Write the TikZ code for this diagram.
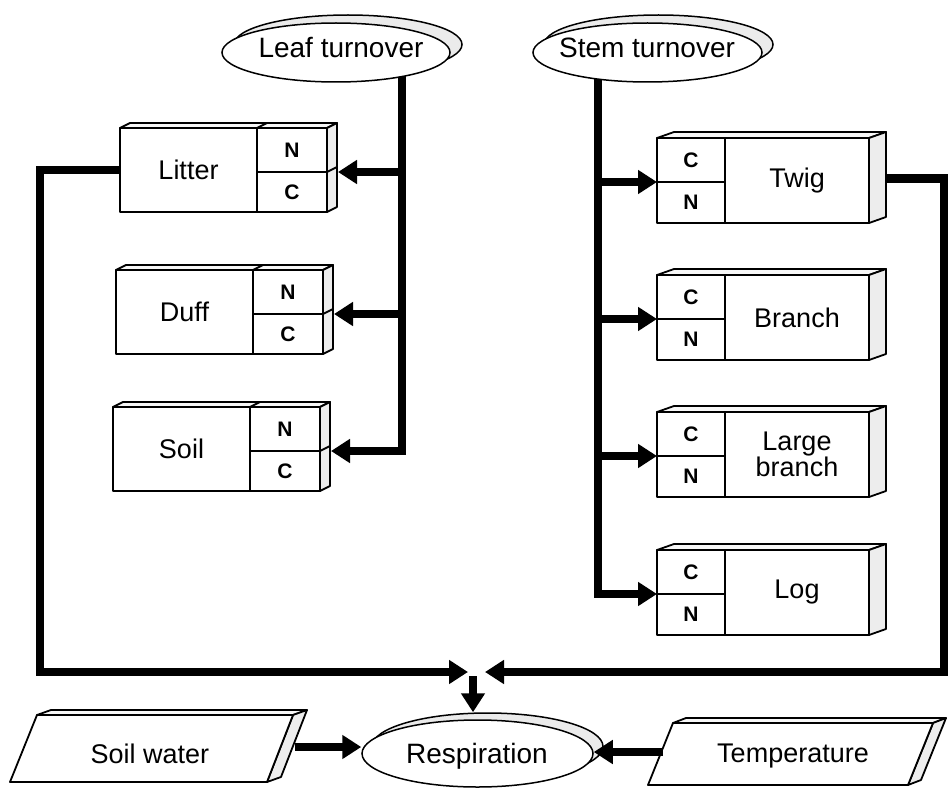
\documentclass[tikz,border=0pt]{standalone}
\usepackage{fontspec}
\setmainfont{Liberation Sans}
\usetikzlibrary{arrows.meta,shapes.geometric,calc,backgrounds}

\tikzset{
  flowline/.style={line width=8pt, draw=black},
  arrowed/.style={-{Triangle[length=19pt,width=23pt]}},
  boxline/.style={draw=black, line width=1.8pt, line join=round},
  stockmain/.style={boxline, fill=white, rectangle, inner sep=0pt, outer sep=0pt,
    align=center, font=\fontsize{27}{26}\selectfont},
  stockcell/.style={boxline, fill=white, rectangle, inner sep=0pt, outer sep=0pt,
    font=\fontsize{21}{21}\selectfont\bfseries},
  topface/.style={boxline, fill=gray!6},
  sideface/.style={boxline, fill=gray!14},
  oval/.style={ellipse, draw=black, line width=1.5pt, fill=white, inner sep=0pt},
  ovalback/.style={oval, fill=gray!16},
  bigtext/.style={inner sep=0pt, font=\fontsize{27}{27}\selectfont},
  ovaltext/.style={inner sep=0pt, font=\fontsize{28}{28}\selectfont},
}

% soil pool: label block on the left, N over C on the right
\newcommand\soilpool[4]{%
  \node[stockmain, minimum width=137pt, minimum height=84pt, anchor=north west] (#1) at (#2,#3) {#4};
  \node[stockcell, minimum width=70pt, minimum height=44pt, anchor=north west] (#1N) at (#1.north east) {N};
  \node[stockcell, minimum width=70pt, minimum height=40pt, anchor=north west] (#1C) at (#1N.south west) {C};
  \draw[topface] (#1.north west) -- ++(10,-5) -- ($(#1N.north east)+(10,-5)$) -- (#1N.north east) -- cycle;
  \draw[boxline] (#1N.north west) -- ++(10,-5);
  \draw[sideface] (#1N.north east) -- ++(10,-5) -- ($(#1C.south east)+(10,-5)$) -- (#1C.south east) -- cycle;
  \draw[boxline] (#1N.south east) -- ++(10,-5);
  \coordinate (#1in) at ($(#1N.south east)+(11,0)$);
}

% woody pool: C over N on the left, label block on the right
\newcommand\woodpool[4]{%
  \node[stockcell, minimum width=68pt, minimum height=44pt, anchor=north west] (#1C) at (#2,#3) {C};
  \node[stockcell, minimum width=68pt, minimum height=41pt, anchor=north west] (#1N) at (#1C.south west) {N};
  \node[stockmain, minimum width=144pt, minimum height=85pt, anchor=north west] (#1) at (#1C.north east) {#4};
  \draw[topface] (#1C.north west) -- ++(17,-6) -- ($(#1.north east)+(17,-6)$) -- (#1.north east) -- cycle;
  \draw[sideface] (#1.north east) -- ++(17,-6) -- ($(#1.south east)+(17,-6)$) -- (#1.south east) -- cycle;
  \coordinate (#1out) at ($(#1.east)+(17,-2)$);
}

\begin{document}
\begin{tikzpicture}[x=1pt, y=-1pt]
\useasboundingbox (0,0) rectangle (948,789);

% turnover processes
\node[ovalback, minimum width=228pt, minimum height=59pt] (leafbk) at (348,44.5) {};
\node[oval, minimum width=228pt, minimum height=59pt] (leaf) at (336,52.5) {};
\node[ovaltext, anchor=base] (leaftext) at (341,58) {Leaf turnover};

\node[ovalback, minimum width=229pt, minimum height=59pt] (stembk) at (658.5,44.5) {};
\node[oval, minimum width=229pt, minimum height=59pt] (stem) at (647.5,52.5) {};
\node[ovaltext, anchor=base] (stemtext) at (647,58) {Stem turnover};

% pools
\soilpool{litter}{120}{128}{Litter}
\soilpool{duff}{116}{270}{Duff}
\soilpool{soil}{113}{407}{Soil}

\woodpool{twig}{657}{138}{Twig}
\woodpool{branch}{657}{275}{Branch}
\woodpool{lbranch}{657}{412}{Large\\branch}
\woodpool{log}{657}{550}{Log}

% respiration and its drivers
\node[ovalback, minimum width=231pt, minimum height=67pt] (respbk) at (487.5,746.5) {};
\node[oval, minimum width=231pt, minimum height=67pt] (resp) at (477.5,753.5) {};
\node[ovaltext, anchor=base] (resptext) at (477,763) {Respiration};

\draw[topface] (37,715) -- (51,710) -- (307,710) -- (293,715) -- cycle;
\draw[sideface] (293,715) -- (307,710) -- (281,777) -- (267,782) -- cycle;
\draw[boxline, fill=white] (37,715) -- (293,715) -- (267,782) -- (10,782) -- cycle;
\node[bigtext, anchor=base] (soilwater) at (150,763) {Soil water};

\draw[topface] (673,723) -- (686,718) -- (946,718) -- (933,723) -- cycle;
\draw[sideface] (933,723) -- (946,718) -- (921,780) -- (908,785) -- cycle;
\draw[boxline, fill=white] (673,723) -- (933,723) -- (908,785) -- (648,785) -- cycle;
\node[bigtext, anchor=base] (temperature) at (793,762) {Temperature};

% connector ends
\coordinate (leafdrop) at (402,72);
\coordinate (stemdrop) at (598,72);
\coordinate (leftrail) at (40,0);
\coordinate (rightrail) at (944,0);
\coordinate (mergeL) at (468,672);
\coordinate (mergeR) at (485,672);
\coordinate (mergeD) at (473,676);
\coordinate (swout) at (295,747);
\coordinate (tempout) at (663,752);

% flows
\begin{pgfonlayer}{background}
  \draw[flowline, arrowed] (leafdrop) |- (soilin);
  \draw[flowline, arrowed] (stemdrop) |- (logC.south west);
\end{pgfonlayer}
\draw[flowline, arrowed] (leafdrop |- litterin) -- (litterin);
\draw[flowline, arrowed] (leafdrop |- duffin) -- (duffin);
\draw[flowline, arrowed] (stemdrop |- twigC.south west) -- (twigC.south west);
\draw[flowline, arrowed] (stemdrop |- branchC.south west) -- (branchC.south west);
\draw[flowline, arrowed] (stemdrop |- lbranchC.south west) -- (lbranchC.south west);

\draw[flowline, arrowed] (litter.west) -- (litter.west -| leftrail) |- (mergeL);
\draw[flowline, arrowed] (twigout) -- (twigout -| rightrail) |- (mergeR);
\draw[flowline, arrowed] (mergeD) -- (mergeD |- respbk.north);
\draw[flowline, arrowed] (swout) -- (swout -| resp.west);
\draw[flowline, arrowed] (tempout) -- (tempout -| resp.east);
\end{tikzpicture}
\end{document}
